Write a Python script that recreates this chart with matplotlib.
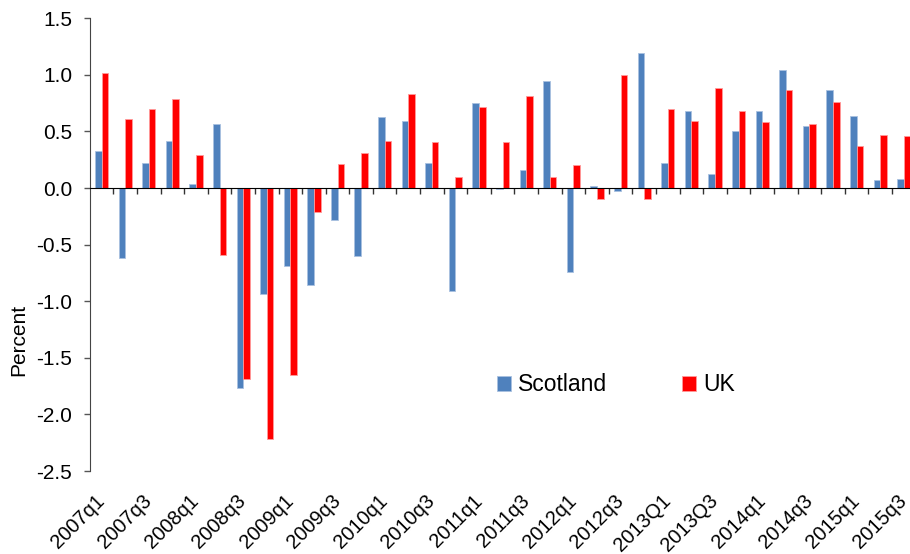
import matplotlib

matplotlib.use("Agg")
import matplotlib.pyplot as plt
import numpy as np

plt.rcParams["font.family"] = ["Liberation Sans", "DejaVu Sans"]

quarters = [
    "2007q1", "2007q2", "2007q3", "2007q4",
    "2008q1", "2008q2", "2008q3", "2008q4",
    "2009q1", "2009q2", "2009q3", "2009q4",
    "2010q1", "2010q2", "2010q3", "2010q4",
    "2011q1", "2011q2", "2011q3", "2011q4",
    "2012q1", "2012q2", "2012q3", "2012q4",
    "2013Q1", "2013Q2", "2013Q3", "2013Q4",
    "2014q1", "2014q2", "2014q3", "2014q4",
    "2015q1", "2015q2", "2015q3",
]

scotland = [
    0.33, -0.62, 0.22, 0.42,
    0.04, 0.57, -1.77, -0.94,
    -0.69, -0.86, -0.28, -0.60,
    0.63, 0.59, 0.22, -0.91,
    0.75, -0.01, 0.16, 0.95,
    -0.74, 0.02, -0.03, 1.19,
    0.22, 0.68, 0.12, 0.50,
    0.68, 1.04, 0.55, 0.87,
    0.64, 0.07, 0.08,
]

uk = [
    1.02, 0.61, 0.70, 0.79,
    0.29, -0.59, -1.69, -2.22,
    -1.65, -0.21, 0.21, 0.31,
    0.42, 0.83, 0.41, 0.10,
    0.72, 0.41, 0.81, 0.10,
    0.20, -0.10, 1.00, -0.10,
    0.70, 0.59, 0.88, 0.68,
    0.58, 0.87, 0.57, 0.76,
    0.37, 0.47, 0.46,
]

# only every second quarter gets a label
shown_labels = quarters[::2]

blue = "#4F81BD"
red = "#FF0000"

fig = plt.figure(figsize=(9.1, 5.54), dpi=100)
ax = fig.add_axes([0.0986, 0.1498, 0.9076, 0.8172])

x = np.arange(len(quarters))
w = 0.28
ax.bar(x - w / 2, scotland, width=w, color=blue, edgecolor="#a9c1e0",
       linewidth=0.6, label="Scotland", zorder=2)
ax.bar(x + w / 2, uk, width=w, color=red, edgecolor="#ff9a9a",
       linewidth=0.6, label="UK", zorder=2)

ax.set_xlim(-0.5, len(quarters) - 0.5)
ax.set_ylim(-2.5, 1.5)
yt = np.arange(-2.5, 1.51, 0.5)
ax.set_yticks(yt)
ax.set_yticklabels([f"{v:.1f}" for v in yt])
ax.tick_params(axis="y", direction="out", length=4.3, width=1, color="#555555",
               labelsize=15, pad=8.4)
ax.set_ylabel("Percent", fontsize=15)
ax.yaxis.set_label_coords(-0.074, 0.29)

# category axis sits on the zero line, ticks between quarters
ax.spines["top"].set_visible(False)
ax.spines["right"].set_visible(False)
ax.spines["bottom"].set_position(("data", 0))
ax.spines["bottom"].set_zorder(3)
ax.spines["left"].set_color("#444444")
ax.set_xticks([])
ax.set_xticks(np.arange(0.5, len(quarters) - 1, 1.0), minor=True)
ax.tick_params(axis="x", which="minor", direction="out", length=4.3, width=1,
               color="#333333", labelbottom=False)

for i, lab in zip(x[::2], shown_labels):
    ax.text(i - 0.28, -0.045, lab, transform=ax.get_xaxis_transform(),
            rotation=45, ha="right", va="top", rotation_mode="anchor",
            fontsize=14.5)

ax.legend(loc="center", bbox_to_anchor=(0.637, 0.19), ncol=2, frameon=False,
          fontsize=16.5, handlelength=0.6, handleheight=0.6, handletextpad=0.3,
          columnspacing=3.3)

fig.savefig("out.png", dpi=100)
